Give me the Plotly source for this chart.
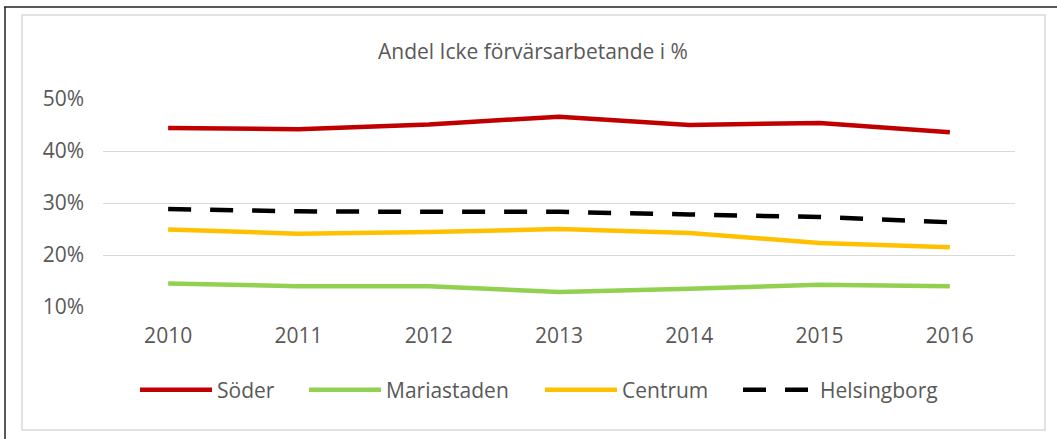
import plotly.graph_objects as go

years = ["2010", "2011", "2012", "2013", "2014", "2015", "2016"]
soder = [44.4, 44.2, 45.1, 46.6, 45.0, 45.4, 43.6]
mariastaden = [14.5, 14.0, 14.0, 12.9, 13.5, 14.3, 14.0]
centrum = [24.9, 24.1, 24.4, 25.0, 24.25, 22.3, 21.5]
helsingborg = [28.85, 28.4, 28.3, 28.3, 27.8, 27.3, 26.3]
y_ticks = [10, 20, 30, 40, 50]
y_labels = ["10%", "20%", "30%", "40%", "50%"]
title_text = "Andel Icke förvärsarbetande i %"

W, H = 1057, 439
L, R, T, B = 103, 1015, 99, 307  # plot area pixels

def px(x):
    return (x - L) / (R - L)

def py(y):
    return (B - y) / (B - T)

FONT = "Open Sans, Noto Sans, sans-serif"
GREY = "#595959"
FS = 21

series = [
    ("Söder", soder, "#C00000", "solid", "legend", 140),
    ("Mariastaden", mariastaden, "#92D050", "solid", "legend2", 309),
    ("Centrum", centrum, "#FFC000", "solid", "legend3", 545),
    ("Helsingborg", helsingborg, "#000000", "23px,19px", "legend4", 743),
]

fig = go.Figure()
legends = {}
for name, vals, col, dash, leg, lx in series:
    fig.add_trace(go.Scatter(x=years, y=vals, name=name, mode="lines", legend=leg,
                             line=dict(color=col, width=4.5, dash=dash)))
    legends[leg] = dict(orientation="h", x=(lx - 5) / W, xanchor="left", xref="container",
                        y=1 - 390 / H, yref="container", yanchor="middle",
                        font=dict(family=FONT, size=FS, color=GREY), itemwidth=72,
                        bgcolor="rgba(0,0,0,0)", borderwidth=0)

shapes = [
    dict(type="rect", xref="paper", yref="paper", x0=px(22), x1=px(1045), y0=py(15), y1=py(430),
         line=dict(color="#d9d9d9", width=1.5), layer="below"),
    dict(type="line", xref="paper", yref="paper", x0=px(4), x1=px(1057), y0=py(7), y1=py(7),
         line=dict(color="#222222", width=1.5)),
    dict(type="line", xref="paper", yref="paper", x0=px(5), x1=px(5), y0=py(7), y1=py(439),
         line=dict(color="#222222", width=1.5)),
]

fig.update_layout(
    width=W, height=H,
    margin=dict(l=L, r=W - R, t=T, b=H - B, pad=0),
    paper_bgcolor="white", plot_bgcolor="white",
    title=dict(text=title_text, x=533 / W, xanchor="center", y=1 - 52 / H, yanchor="middle",
               font=dict(family=FONT, size=FS, color=GREY)),
    xaxis=dict(type="category", range=[-0.5, 6.5], showgrid=False, showline=False, ticks="",
               tickfont=dict(family=FONT, size=FS, color=GREY), ticklabelstandoff=14),
    yaxis=dict(range=[10, 50], tickmode="array", tickvals=y_ticks, ticktext=y_labels,
               showgrid=True, gridcolor="#d9d9d9", gridwidth=1, zeroline=False,
               showline=False, ticks="",
               tickfont=dict(family=FONT, size=FS, color=GREY), ticklabelstandoff=18),
    showlegend=True,
    shapes=shapes,
    **legends,
)

fig.write_html("out.html", config={"displayModeBar": False},
               post_script="document.body.style.margin='0';document.body.style.padding='0';")
